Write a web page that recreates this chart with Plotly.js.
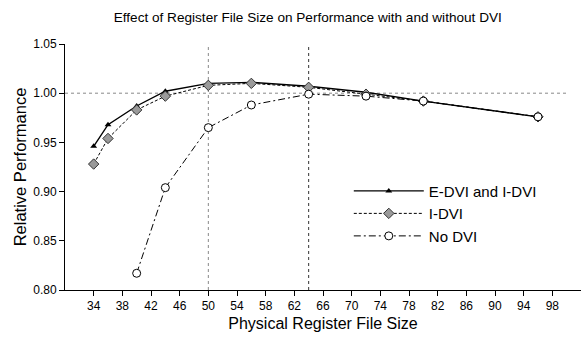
<!DOCTYPE html>
<html>
<head>
<meta charset="utf-8">
<script src="https://cdn.plot.ly/plotly-3.0.1.min.js"></script>
<style>html,body{margin:0;padding:0;background:#fff;}#chart{width:584px;height:337px;}</style>
</head>
<body>
<div id="chart"></div>
<script>
// Data
const sizesFull = [34, 36, 40, 44, 50, 56, 64, 72, 80, 96];
const eDviIDvi = [0.946, 0.968, 0.987, 1.002, 1.010, 1.011, 1.007, 1.001, 0.992, 0.976];
const iDvi     = [0.928, 0.954, 0.983, 0.997, 1.008, 1.010, 1.006, 0.999, 0.992, 0.976];
const sizesNoDvi = [40, 44, 50, 56, 64, 72, 80, 96];
const noDvi    = [0.817, 0.904, 0.965, 0.988, 0.999, 0.997, 0.992, 0.976];
const xTicks = [34, 38, 42, 46, 50, 54, 58, 62, 66, 70, 74, 78, 82, 86, 90, 94, 98];
const yTicks = [0.80, 0.85, 0.90, 0.95, 1.00, 1.05];
const refX = [50, 64];
const refY = 1.00;

const font = '"Liberation Sans", Arial, sans-serif';

const traces = [
  {x: sizesFull, y: eDviIDvi, name: 'E-DVI and I-DVI', mode: 'lines+markers',
   line: {color: '#000', width: 1.4},
   marker: {symbol: 'triangle-up', size: 6, color: '#000'}},
  {x: sizesFull, y: iDvi, name: 'I-DVI', mode: 'lines+markers',
   line: {color: '#000', width: 1, dash: '3px,2px'},
   marker: {symbol: 'diamond', size: 8, color: '#9a9a9a', line: {color: '#333', width: 1}}},
  {x: sizesNoDvi, y: noDvi, name: 'No DVI', mode: 'lines+markers',
   line: {color: '#000', width: 1, dash: '7px,3px,2px,3px'},
   marker: {symbol: 'circle', size: 8, color: '#fff', line: {color: '#000', width: 1}}}
];

const shapes = refX.map((v, i) => ({
  type: 'line', xref: 'x', yref: 'paper', x0: v, x1: v, y0: 0, y1: 1,
  line: {color: i === 0 ? '#888' : '#333', width: 1, dash: 'dot'}, layer: 'below'
}));
shapes.push({type: 'line', xref: 'x', yref: 'y', x0: 30, x1: 100, y0: refY, y1: refY,
  line: {color: '#888', width: 1, dash: 'dot'}, layer: 'below'});

const layout = {
  width: 584, height: 337,
  margin: {l: 65, r: 3, t: 44, b: 47},
  paper_bgcolor: '#fff', plot_bgcolor: '#fff',
  font: {family: font, color: '#000', size: 12},
  title: {text: 'Effect of Register File Size on Performance with and without DVI',
          font: {family: font, size: 13.6, color: '#000'}, x: 0.527, xanchor: 'center', y: 0.95, yanchor: 'middle'},
  showlegend: true,
  legend: {x: 0.55, y: 0.469, xanchor: 'left', yanchor: 'top', bgcolor: 'rgba(0,0,0,0)',
           font: {family: font, size: 15, color: '#000'}, itemwidth: 70, tracegroupgap: 0},
  xaxis: {range: [30, 102], tickvals: xTicks, ticktext: xTicks.map(String),
          showgrid: false, zeroline: false, showline: true, linecolor: '#000', linewidth: 1,
          ticks: 'outside', ticklen: 5, tickcolor: '#000', tickfont: {size: 12},
          title: {text: 'Physical Register File Size', font: {size: 16}, standoff: 5}},
  yaxis: {range: [0.80, 1.05], tickvals: yTicks, ticktext: yTicks.map(v => v.toFixed(2)),
          showgrid: false, zeroline: false, showline: true, linecolor: '#000', linewidth: 1,
          ticks: 'outside', ticklen: 5, tickcolor: '#000', tickfont: {size: 12},
          title: {text: 'Relative Performance', font: {size: 16.5}, standoff: 2}},
  shapes: shapes
};

Plotly.newPlot('chart', traces, layout, {displayModeBar: false, staticPlot: true});
</script>
</body>
</html>
